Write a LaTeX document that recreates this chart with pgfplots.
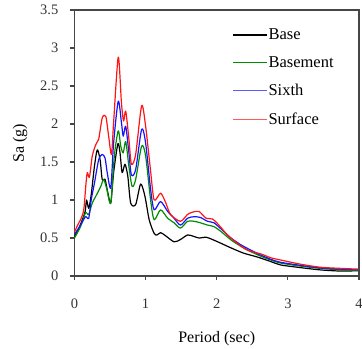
\documentclass[border=0pt]{standalone}
\usepackage{pgfplots}
\pgfplotsset{compat=1.18}
\usepackage{fontspec}
\setmainfont{Liberation Serif}
\definecolor{axgray}{RGB}{70,70,70}
\definecolor{cgreen}{RGB}{0,140,0}
\definecolor{cblue}{RGB}{20,20,255}
\definecolor{cred}{RGB}{255,20,20}
\begin{document}
\fontsize{15bp}{18bp}\selectfont
\begin{tikzpicture}
\begin{axis}[
  scale only axis,
  width=284.5bp, height=266bp,
  xmin=0, xmax=4, ymin=0, ymax=3.5,
  xtick={0,1,2,3,4},
  ytick={0,0.5,1,1.5,2,2.5,3,3.5},
  yticklabels={0,0.5,1,1.5,2,2.5,3,3.5},
  xticklabels={0,1,2,3,4},
  tick align=outside,
  tick pos=left,
  major tick length=4bp,
  axis line style={axgray, line width=1.3bp},
  every tick/.style={axgray, line width=1.1bp},
  tick label style={font=\fontsize{14.5bp}{17bp}\selectfont, text=black!80},
  xticklabel style={yshift=-14bp},
  yticklabel style={xshift=-7bp},
  /pgf/number format/assume math mode=true,
  xlabel={Period (sec)},
  ylabel={Sa (g)},
  x label style={at={(axis description cs:0.5,-0.2368)}, anchor=center, font=\fontsize{16bp}{19bp}\selectfont},
  y label style={at={(axis description cs:-0.1916,0.5)}, anchor=center, rotate=0, font=\fontsize{16bp}{19bp}\selectfont},
  legend style={draw=none, fill=none, at={(axis description cs:0.554,0.935)}, anchor=north west,
    font=\fontsize{16.5bp}{19bp}\selectfont, row sep=12.7bp, inner sep=0pt,
    nodes={inner sep=1bp}},
  legend cell align=left,
  every axis plot/.append style={line width=1.2bp, line join=round, smooth, tension=0.45},
]
\addlegendimage{black, line width=1.2bp, legend image code/.code={\draw[black, line width=1.2bp] (0bp,0bp) -- (34bp,0bp);}}
\addlegendentry{Base}
\addlegendimage{cgreen, line width=1.2bp, legend image code/.code={\draw[cgreen, line width=1.2bp] (0bp,0bp) -- (34bp,0bp);}}
\addlegendentry{Basement}
\addlegendimage{cblue, line width=1.2bp, legend image code/.code={\draw[cblue!70, line width=1.2bp] (0bp,0bp) -- (34bp,0bp);}}
\addlegendentry{Sixth}
\addlegendimage{cred, line width=1.2bp, legend image code/.code={\draw[cred!70, line width=1.2bp] (0bp,0bp) -- (34bp,0bp);}}
\addlegendentry{Surface}
\addplot[black, forget plot] coordinates {
(0,0.52) (0.05,0.6) (0.11,0.74) (0.15,0.85) (0.17,1.0) (0.20,0.89) (0.235,1.07) (0.28,1.44) (0.32,1.66) (0.36,1.53) (0.39,1.27) (0.43,1.27) (0.47,1.09) (0.51,0.96) (0.55,1.36) (0.61,1.74) (0.64,1.62) (0.67,1.36) (0.71,1.47) (0.75,1.31) (0.79,0.96) (0.86,0.94) (0.93,1.21) (0.99,1.05) (1.05,0.74) (1.12,0.56) (1.16,0.54) (1.21,0.57) (1.28,0.53) (1.40,0.45) (1.49,0.48) (1.59,0.54) (1.68,0.52) (1.75,0.50) (1.85,0.51) (1.94,0.48) (2.06,0.43) (2.20,0.37) (2.38,0.30) (2.57,0.25) (2.76,0.19) (2.90,0.145) (3.18,0.11) (3.46,0.08) (3.75,0.065) (4.0,0.07)
};
\addplot[cgreen, forget plot] coordinates {
(0,0.50) (0.085,0.65) (0.155,0.83) (0.20,0.81) (0.25,0.96) (0.30,1.05) (0.37,1.18) (0.41,1.27) (0.45,1.16) (0.51,0.96) (0.56,1.58) (0.615,1.91) (0.65,1.71) (0.685,1.62) (0.72,1.77) (0.765,1.44) (0.81,1.18) (0.86,1.27) (0.944,1.71) (1.0,1.58) (1.07,1.0) (1.12,0.74) (1.21,0.87) (1.31,0.76) (1.40,0.70) (1.49,0.63) (1.59,0.72) (1.68,0.72) (1.77,0.70) (1.87,0.67) (1.96,0.65) (2.06,0.585) (2.20,0.475) (2.34,0.39) (2.48,0.32) (2.62,0.26) (2.76,0.21) (2.90,0.17) (3.18,0.13) (3.46,0.10) (3.75,0.08) (4.0,0.075)
};
\addplot[cblue, forget plot] coordinates {
(0,0.55) (0.085,0.67) (0.155,0.78) (0.20,0.76) (0.235,1.0) (0.28,1.22) (0.34,1.53) (0.39,1.60) (0.43,1.55) (0.46,1.36) (0.51,1.16) (0.55,1.75) (0.615,2.30) (0.66,2.02) (0.685,1.84) (0.72,1.97) (0.765,1.62) (0.80,1.33) (0.86,1.40) (0.944,1.93) (1.0,1.75) (1.07,1.14) (1.12,0.87) (1.21,0.98) (1.31,0.85) (1.40,0.76) (1.49,0.67) (1.59,0.76) (1.68,0.78) (1.77,0.77) (1.87,0.72) (1.96,0.70) (2.06,0.62) (2.20,0.50) (2.34,0.41) (2.48,0.34) (2.62,0.275) (2.76,0.22) (2.90,0.18) (3.18,0.14) (3.46,0.105) (3.75,0.09) (4.0,0.08)
};
\addplot[cred, forget plot] coordinates {
(0,0.58) (0.05,0.68) (0.085,0.74) (0.13,0.87) (0.16,1.2) (0.18,1.36) (0.21,1.30) (0.25,1.58) (0.30,1.73) (0.34,1.80) (0.39,2.08) (0.44,2.10) (0.48,1.84) (0.52,1.60) (0.55,2.02) (0.615,2.88) (0.66,2.28) (0.69,2.04) (0.72,2.17) (0.765,1.80) (0.80,1.47) (0.86,1.60) (0.944,2.24) (1.0,1.97) (1.07,1.38) (1.12,1.0) (1.21,1.09) (1.28,0.97) (1.35,0.81) (1.49,0.72) (1.59,0.81) (1.66,0.84) (1.75,0.85) (1.85,0.76) (1.94,0.75) (2.03,0.67) (2.15,0.54) (2.29,0.43) (2.43,0.34) (2.62,0.29) (2.76,0.24) (2.90,0.21) (3.18,0.155) (3.46,0.115) (3.75,0.10) (4.0,0.09)
};
\draw[axgray, line width=1.3bp] (rel axis cs:0,1) -- (rel axis cs:1,1) -- (rel axis cs:1,0);
\end{axis}
\pgfresetboundingbox
\path[use as bounding box] ([xshift=-74.5bp,yshift=-73bp]current axis.south west) rectangle ([xshift=3bp,yshift=10bp]current axis.north east);
\end{tikzpicture}
\end{document}
